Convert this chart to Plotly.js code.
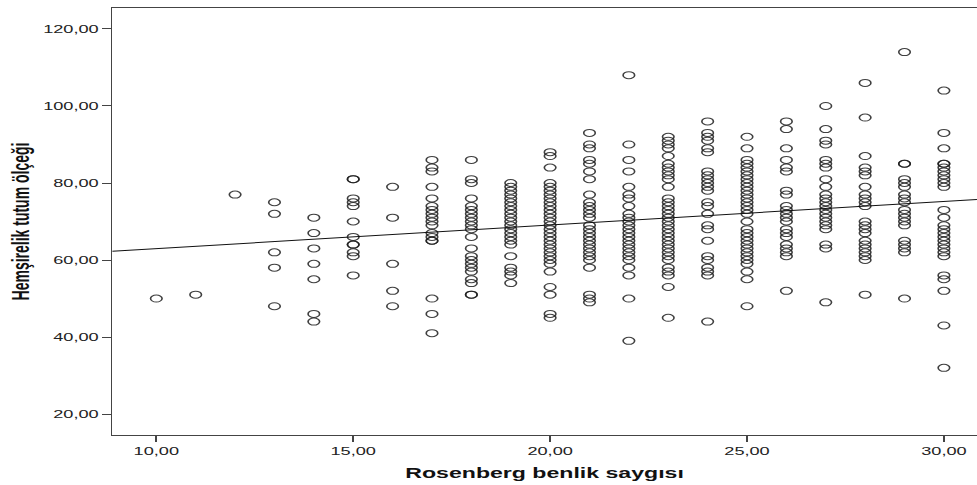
<!DOCTYPE html>
<html>
<head>
<meta charset="utf-8">
<script src="https://cdn.plot.ly/plotly-3.0.1.min.js"></script>
<style>
  html, body { margin: 0; padding: 0; background: #fff; }
  #wrap { width: 977px; height: 485px; overflow: hidden; }
  #plot { width: 592px; height: 485px; transform: scaleX(1.6503); transform-origin: 0 0; }
</style>
</head>
<body>
<div id="wrap"><div id="plot"></div></div>
<script>
// Rosenberg benlik saygısı (x) and Hemşirelik tutum ölçeği values (y) per score
const rosenbergScores = [10, 11, 12, 13, 14, 15, 16, 17, 18, 19, 20, 21, 22, 23, 24, 25, 26, 27, 28, 29, 30];
const tutum10 = [50];
const tutum11 = [51];
const tutum12 = [77];
const tutum13 = [75, 72, 62, 58, 48];
const tutum14 = [71, 67, 63, 59, 55, 46, 44];
const tutum15 = [81, 81, 76, 75, 74, 70, 66, 64, 64, 62, 61, 56];
const tutum16 = [79, 71, 59, 52, 48];
const tutum17 = [86, 84, 83, 79, 76, 74, 73, 72, 71, 70, 69, 67, 66, 65, 65, 50, 46, 41];
const tutum18 = [86, 81, 80, 76, 74, 73, 72, 71, 70, 69, 68, 66, 63, 61, 60, 59, 58, 57, 55, 54, 51, 51];
const tutum19 = [80, 79, 78, 77, 76, 75, 74, 73, 72, 71, 70, 69, 68, 67, 66, 65, 64, 61, 58, 57, 56, 54];
const tutum20 = [88, 87, 84, 80, 79, 78, 77, 76, 75, 74, 73, 72, 71, 70, 69, 68, 67, 66, 65, 64, 63, 62, 61, 60, 59, 57, 53, 51, 46, 45];
const tutum21 = [93, 90, 89, 86, 85, 83, 81, 77, 75, 74, 73, 72, 71, 69, 68, 67, 66, 65, 64, 63, 62, 61, 60, 58, 51, 50, 49];
const tutum22 = [108, 90, 86, 83, 79, 77, 76, 74, 72, 71, 70, 69, 68, 67, 66, 65, 64, 63, 62, 61, 60, 58, 56, 50, 39];
const tutum23 = [92, 91, 90, 89, 87, 85, 84, 83, 82, 81, 79, 76, 75, 74, 73, 72, 71, 70, 69, 68, 67, 66, 65, 64, 63, 62, 61, 60, 58, 57, 56, 53, 45];
const tutum24 = [96, 93, 92, 91, 89, 88, 83, 82, 81, 80, 79, 78, 75, 74, 72, 69, 68, 65, 61, 60, 58, 57, 56, 44];
const tutum25 = [92, 89, 86, 85, 84, 83, 82, 81, 80, 79, 78, 77, 76, 75, 74, 73, 72, 70, 68, 67, 66, 65, 64, 63, 62, 61, 60, 59, 57, 55, 48];
const tutum26 = [96, 94, 89, 86, 84, 83, 78, 77, 74, 73, 72, 71, 70, 68, 67, 66, 64, 63, 62, 61, 52];
const tutum27 = [100, 94, 91, 90, 86, 85, 84, 81, 79, 77, 76, 75, 74, 73, 72, 71, 70, 69, 68, 64, 63, 49];
const tutum28 = [106, 97, 87, 84, 83, 82, 79, 77, 76, 75, 74, 70, 69, 68, 67, 65, 64, 63, 62, 61, 60, 51];
const tutum29 = [114, 85, 85, 81, 80, 79, 77, 76, 75, 73, 72, 71, 70, 69, 65, 64, 63, 62, 50];
const tutum30 = [104, 93, 89, 85, 85, 84, 83, 82, 81, 80, 79, 73, 71, 69, 68, 67, 66, 65, 64, 63, 62, 61, 56, 55, 52, 43, 32];
const tutumByScore = [tutum10, tutum11, tutum12, tutum13, tutum14, tutum15, tutum16, tutum17, tutum18, tutum19,
  tutum20, tutum21, tutum22, tutum23, tutum24, tutum25, tutum26, tutum27, tutum28, tutum29, tutum30];

// Fit line
const fitIntercept = 56.8;
const fitSlope = 0.614;

const yTickValues = [20, 40, 60, 80, 100, 120];
const xTickValues = [10, 15, 20, 25, 30];
const xTitle = 'Rosenberg benlik saygısı';
const yTitle = 'Hemşirelik tutum ölçeği';

const xRange = [8.88, 30.84];
const yRange = [14.55, 125.45];

const px = [], py = [];
rosenbergScores.forEach((s, i) => {
  tutumByScore[i].forEach(v => { px.push(s); py.push(v); });
});

const scatter = {
  type: 'scatter', mode: 'markers', x: px, y: py,
  marker: { symbol: 'circle-open', size: 7, color: 'rgba(30,30,30,0.85)', line: { width: 1, color: 'rgba(30,30,30,0.85)' } },
  hoverinfo: 'x+y', showlegend: false
};
const fit = {
  type: 'scatter', mode: 'lines',
  x: [xRange[0], xRange[1]],
  y: [fitIntercept + fitSlope * xRange[0], fitIntercept + fitSlope * xRange[1]],
  line: { color: '#111', width: 1 }, hoverinfo: 'skip', showlegend: false
};

const fontFam = '"Liberation Sans", Arial, sans-serif';
const layout = {
  width: 592, height: 485,
  margin: { l: 68, r: 0, t: 8, b: 50 },
  paper_bgcolor: '#fff', plot_bgcolor: '#fff',
  separators: ',.',
  font: { family: fontFam, size: 11, color: '#222' },
  xaxis: {
    range: xRange, tickvals: xTickValues, tickformat: '.2f',
    showgrid: false, zeroline: false,
    showline: true, linecolor: '#444', linewidth: 1, mirror: true,
    ticks: 'outside', ticklen: 6, tickcolor: '#444', tickwidth: 1,
    tickfont: { family: fontFam, size: 11, color: '#222' },
    title: { text: xTitle, font: { family: fontFam, size: 14, color: '#111', weight: 'bold' }, standoff: 12 }
  },
  yaxis: {
    range: yRange, tickvals: yTickValues, tickformat: '.2f',
    showgrid: false, zeroline: false,
    showline: true, linecolor: '#444', linewidth: 1,
    ticks: 'outside', ticklen: 5, tickcolor: '#444', tickwidth: 1,
    tickfont: { family: fontFam, size: 11, color: '#222' },
    title: { text: yTitle, font: { family: fontFam, size: 14, color: '#111', weight: 'bold' }, standoff: 4 }
  }
};

Plotly.newPlot('plot', [scatter, fit], layout, { displayModeBar: false, staticPlot: true });
</script>
</body>
</html>
